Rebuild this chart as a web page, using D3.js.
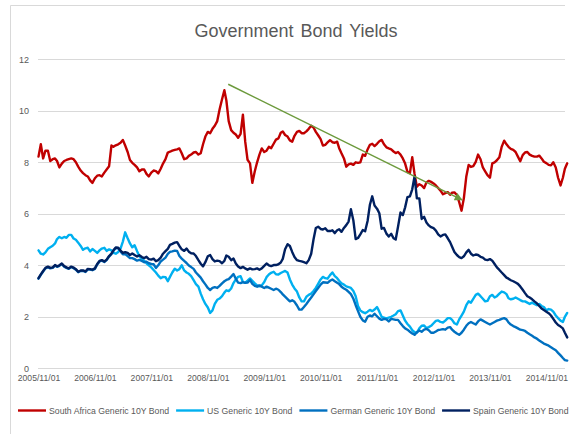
<!DOCTYPE html>
<html><head><meta charset="utf-8">
<script src="https://cdn.jsdelivr.net/npm/d3@7"></script>
<style>
body{margin:0;background:#fff}
svg{display:block}
text{font-family:"Liberation Sans",Arial,sans-serif}
</style>
</head><body>
<svg id="c" width="569" height="434"></svg>
<script>
const chartTitle = "Government Bond Yields";
const seriesNames = ["South Africa Generic 10Y Bond","US Generic 10Y Bond","German Generic 10Y Bond","Spain Generic 10Y Bond"];
const seriesColors = ["#c00000","#00b0f0","#0070c0","#002060"];
const tickDates = ["2005-11-01","2006-11-01","2007-11-01","2008-11-01","2009-11-01","2010-11-01","2011-11-01","2012-11-01","2013-11-01","2014-11-01"];
const yTicks = [0,2,4,6,8,10,12];

// semi-monthly observations (1st and 16th of each month) from 2005-11-01 to 2015-03-16
const saValues = [
8.22,8.70,8.15,8.45,8.45,8.05,8.12,8.15,8.05,7.80,
7.95,8.05,8.09,8.12,8.15,8.12,8.00,7.83,7.68,7.58,
7.50,7.45,7.30,7.20,7.38,7.48,7.50,7.45,7.60,7.72,
7.85,8.65,8.60,8.66,8.70,8.76,8.87,8.65,8.40,8.09,
7.98,7.90,7.80,7.65,7.72,7.72,7.55,7.45,7.60,7.68,
7.66,7.57,7.75,7.95,8.12,8.38,8.41,8.45,8.48,8.50,
8.54,8.35,8.12,8.15,8.25,8.30,8.38,8.40,8.30,8.35,
8.70,9.00,9.18,9.13,9.30,9.42,9.60,10.05,10.45,10.80,
10.40,9.60,9.25,9.15,9.08,8.95,9.10,9.85,8.80,8.10,
7.96,7.20,7.65,8.00,8.30,8.54,8.40,8.45,8.60,8.55,
8.72,8.88,8.93,9.15,9.20,9.06,9.00,8.85,8.80,9.03,
9.18,9.22,9.13,9.13,9.20,9.30,9.42,9.35,9.18,9.05,
8.90,8.65,8.68,8.77,8.86,8.78,8.76,8.80,8.55,8.35,
8.15,7.83,7.92,7.95,7.90,8.00,7.98,8.00,8.30,8.25,
8.50,8.68,8.72,8.63,8.72,8.82,8.87,8.70,8.58,8.54,
8.50,8.42,8.36,8.40,8.30,8.15,7.95,7.63,7.58,8.20,
7.55,7.05,7.15,7.10,7.00,7.22,7.28,7.24,7.18,7.10,
7.00,6.90,6.76,6.80,6.84,6.74,6.82,6.83,6.73,6.45,
6.12,6.60,7.45,7.90,7.82,7.85,8.02,8.30,8.12,7.80,
7.65,7.50,7.40,7.96,8.00,8.08,8.20,8.60,8.84,8.70,
8.60,8.52,8.48,8.40,8.22,8.04,8.28,8.38,8.40,8.30,
8.25,8.22,8.22,8.26,8.15,8.02,7.97,7.90,7.88,8.00,
7.80,7.40,7.10,7.40,7.75,7.96];
const usValues = [
4.58,4.45,4.42,4.50,4.64,4.70,4.76,4.85,5.02,5.10,
5.05,5.10,5.07,5.18,5.18,5.04,4.99,4.88,4.75,4.60,
4.66,4.68,4.54,4.63,4.56,4.48,4.58,4.65,4.68,4.56,
4.62,4.58,4.48,4.45,4.52,4.65,4.92,5.28,5.05,4.85,
4.70,4.78,4.55,4.35,4.26,4.17,4.08,4.00,3.92,3.82,
3.72,3.60,3.50,3.55,3.54,3.38,3.55,3.72,3.87,3.80,
3.85,4.00,3.80,3.72,3.67,3.58,3.42,3.27,3.17,2.90,
2.68,2.50,2.36,2.15,2.25,2.50,2.66,2.71,2.80,2.94,
3.03,3.00,3.10,3.31,3.45,3.55,3.58,3.35,3.32,3.40,
3.49,3.40,3.30,3.22,3.18,3.22,3.35,3.54,3.64,3.71,
3.75,3.65,3.64,3.70,3.74,3.78,3.72,3.45,3.25,3.10,
2.98,2.75,2.60,2.60,2.78,2.85,2.90,3.00,3.12,3.28,
3.45,3.55,3.50,3.48,3.62,3.72,3.58,3.50,3.40,3.30,
3.25,3.18,3.15,3.12,3.00,2.80,2.42,2.25,2.18,2.14,
2.20,2.27,2.22,2.28,2.38,2.20,2.00,1.97,1.94,1.97,
2.00,2.05,2.10,2.22,2.25,2.05,1.85,1.72,1.62,1.48,
1.40,1.38,1.55,1.65,1.66,1.56,1.60,1.65,1.75,1.84,
1.86,1.80,1.78,1.85,1.95,1.95,1.88,1.75,1.70,1.90,
2.05,2.20,2.45,2.60,2.55,2.70,2.85,2.90,2.80,2.70,
2.60,2.62,2.80,2.85,2.75,2.80,2.90,2.98,2.95,2.88,
2.72,2.68,2.70,2.75,2.70,2.65,2.60,2.60,2.55,2.50,
2.55,2.50,2.45,2.50,2.42,2.38,2.25,2.30,2.28,2.20,
2.05,1.95,1.85,1.80,2.00,2.15];
const deValues = [
3.48,3.63,3.76,3.88,3.93,3.88,3.90,3.99,3.94,3.98,
4.05,3.95,3.90,3.86,3.93,3.89,3.83,3.73,3.78,3.78,
3.74,3.84,3.83,3.81,3.86,4.03,4.15,4.18,4.13,4.20,
4.34,4.43,4.56,4.67,4.66,4.54,4.43,4.44,4.36,4.28,
4.28,4.24,4.18,4.21,4.17,4.12,4.14,4.08,4.05,4.04,
3.90,4.00,4.15,4.22,4.30,4.44,4.52,4.54,4.57,4.56,
4.36,4.26,4.17,4.09,3.99,3.93,3.86,3.72,3.62,3.52,
3.38,3.26,3.12,3.04,3.12,3.15,3.12,3.20,3.30,3.38,
3.43,3.46,3.56,3.66,3.48,3.33,3.31,3.35,3.32,3.33,
3.43,3.28,3.20,3.17,3.22,3.17,3.12,3.17,3.13,3.09,
3.04,3.09,3.05,2.96,2.87,2.78,2.69,2.60,2.64,2.58,
2.44,2.28,2.28,2.38,2.50,2.62,2.75,2.87,3.00,3.12,
3.25,3.34,3.33,3.32,3.40,3.45,3.38,3.32,3.27,3.17,
3.10,3.05,2.97,2.88,2.70,2.45,2.22,2.00,1.86,1.81,
2.00,2.05,2.02,2.12,2.02,1.93,1.88,1.92,1.90,1.82,
1.92,1.90,1.88,1.88,1.75,1.64,1.55,1.50,1.42,1.35,
1.30,1.40,1.47,1.42,1.50,1.53,1.48,1.38,1.38,1.43,
1.49,1.50,1.52,1.50,1.58,1.60,1.50,1.42,1.35,1.30,
1.38,1.50,1.65,1.75,1.80,1.75,1.70,1.82,1.90,1.85,
1.80,1.75,1.70,1.75,1.80,1.85,1.88,1.92,1.95,1.90,
1.78,1.70,1.64,1.60,1.55,1.50,1.48,1.45,1.38,1.32,
1.26,1.20,1.15,1.08,1.02,0.96,0.92,0.88,0.82,0.76,
0.70,0.60,0.50,0.40,0.32,0.30];
const esValues = [
3.50,3.65,3.78,3.90,3.95,3.90,3.92,4.01,3.96,4.00,
4.07,3.97,3.92,3.88,3.95,3.91,3.85,3.75,3.80,3.80,
3.76,3.86,3.85,3.83,3.88,4.05,4.17,4.20,4.15,4.22,
4.36,4.45,4.58,4.69,4.68,4.57,4.48,4.51,4.48,4.40,
4.46,4.40,4.34,4.39,4.32,4.28,4.33,4.24,4.22,4.26,
4.16,4.20,4.30,4.45,4.55,4.64,4.79,4.83,4.88,4.90,
4.75,4.62,4.56,4.65,4.53,4.47,4.46,4.36,4.20,4.06,
3.96,4.12,4.35,4.40,4.24,4.15,4.18,4.16,4.08,4.17,
4.38,4.33,4.20,4.26,4.07,3.95,3.89,3.94,3.88,3.83,
3.88,3.84,3.85,3.88,3.83,3.88,3.98,4.07,4.00,3.97,
4.01,4.01,4.04,4.11,4.25,4.62,4.82,4.75,4.52,4.32,
4.20,4.17,4.15,4.12,4.08,4.20,4.45,5.00,5.45,5.50,
5.41,5.39,5.44,5.33,5.33,5.36,5.25,5.36,5.40,5.30,
5.45,5.56,5.70,6.18,5.74,5.02,5.06,5.20,5.37,5.32,
5.72,6.35,6.68,6.32,6.20,6.02,5.42,5.45,5.23,5.12,
5.22,5.05,5.00,5.50,6.05,5.95,6.25,6.65,6.68,6.95,
7.45,6.60,6.60,5.80,5.88,5.66,5.55,5.48,5.44,5.35,
5.20,5.12,5.18,5.20,5.05,4.90,4.72,4.52,4.40,4.32,
4.28,4.35,4.50,4.60,4.45,4.38,4.42,4.40,4.33,4.30,
4.22,4.20,4.24,4.18,4.05,3.92,3.82,3.72,3.62,3.52,
3.48,3.42,3.38,3.33,3.28,3.18,3.05,2.92,2.80,2.75,
2.68,2.60,2.52,2.42,2.32,2.26,2.20,2.14,2.05,1.92,
1.78,1.68,1.62,1.55,1.38,1.20];

// trend arrow annotation (date, yield)
const arrowDates = ["2009-03-13","2013-05-04"];
const arrowValues = [11.03, 6.54];

// ---------- build ----------
const dates = [];
for (let m = 0; m <= 112; m++) for (const d of [1, 16]) dates.push(new Date(Date.UTC(2005, 10 + m, d)));
const allValues = [saValues, usValues, deValues, esValues];

const svg = d3.select("#c");
const x = d3.scaleUtc().domain([dates[0], dates[dates.length - 1]]).range([38.5, 567.2]);
const y = d3.scaleLinear().domain([0, 12]).range([368.3, 59.3]);
const textColor = "#595959", gridColor = "#d9d9d9";

// chart border (left & top visible)
svg.append("path").attr("d", "M10.5,434V5.5H565").attr("fill", "none").attr("stroke", gridColor).attr("stroke-width", 1);

// title
svg.append("text").attr("x", 296).attr("y", 37).attr("text-anchor", "middle")
  .attr("font-size", 18).attr("word-spacing", 2).attr("fill", textColor).text(chartTitle);

// gridlines
svg.append("g").selectAll("line").data(yTicks).join("line")
  .attr("x1", 38).attr("x2", 565)
  .attr("y1", d => Math.round(y(d)) + 0.5).attr("y2", d => Math.round(y(d)) + 0.5)
  .attr("stroke", gridColor).attr("stroke-width", 1);

// y axis labels
const yAxis = svg.append("g").attr("transform", "translate(38,0)")
  .call(d3.axisLeft(y).tickValues(yTicks).tickSize(0).tickPadding(9).tickFormat(d3.format("d")));
yAxis.select(".domain").remove();
yAxis.selectAll("text").attr("fill", textColor).attr("font-size", 9).attr("font-family", '"Liberation Sans",Arial,sans-serif');

// x axis labels
const parse = d3.utcParse("%Y-%m-%d");
const xAxis = svg.append("g").attr("transform", "translate(0,368)")
  .call(d3.axisBottom(x).tickValues(tickDates.map(parse)).tickSize(0).tickPadding(7).tickFormat(d3.utcFormat("%Y/%m/%d")));
xAxis.select(".domain").remove();
xAxis.selectAll("text").attr("fill", textColor).attr("font-size", 8.6).attr("font-family", '"Liberation Sans",Arial,sans-serif');

// series lines
const line = d3.line().x((d, i) => x(dates[i])).y(d => y(d));
svg.append("g").selectAll("path").data(allValues).join("path")
  .attr("d", d => line(d))
  .attr("fill", "none")
  .attr("stroke", (d, i) => seriesColors[i])
  .attr("stroke-width", 2.4)
  .attr("stroke-linejoin", "round")
  .attr("stroke-linecap", "round");

// arrow annotation
const arrowColor = "#6c9a3c";
svg.append("defs").append("marker").attr("id", "ah")
  .attr("viewBox", "0 0 10 10").attr("refX", 9).attr("refY", 5)
  .attr("markerWidth", 9).attr("markerHeight", 8).attr("markerUnits", "userSpaceOnUse")
  .attr("orient", "auto")
  .append("path").attr("d", "M0,0L10,5L0,10Z").attr("fill", arrowColor);
svg.append("line")
  .attr("x1", x(parse(arrowDates[0]))).attr("y1", y(arrowValues[0]))
  .attr("x2", x(parse(arrowDates[1]))).attr("y2", y(arrowValues[1]))
  .attr("stroke", arrowColor).attr("stroke-width", 1.5).attr("marker-end", "url(#ah)");

// legend
const legend = svg.append("g");
let lx = 18;
const ly = 410.5;
seriesNames.forEach((name, i) => {
  legend.append("line").attr("x1", lx).attr("x2", lx + 28).attr("y1", ly).attr("y2", ly)
    .attr("stroke", seriesColors[i]).attr("stroke-width", 2.4);
  const t = legend.append("text").attr("x", lx + 31).attr("y", ly).attr("dy", "0.35em")
    .attr("font-size", 8.7).attr("fill", textColor).text(name);
  lx += 31 + t.node().getComputedTextLength() + 7;
});
</script>
</body></html>
